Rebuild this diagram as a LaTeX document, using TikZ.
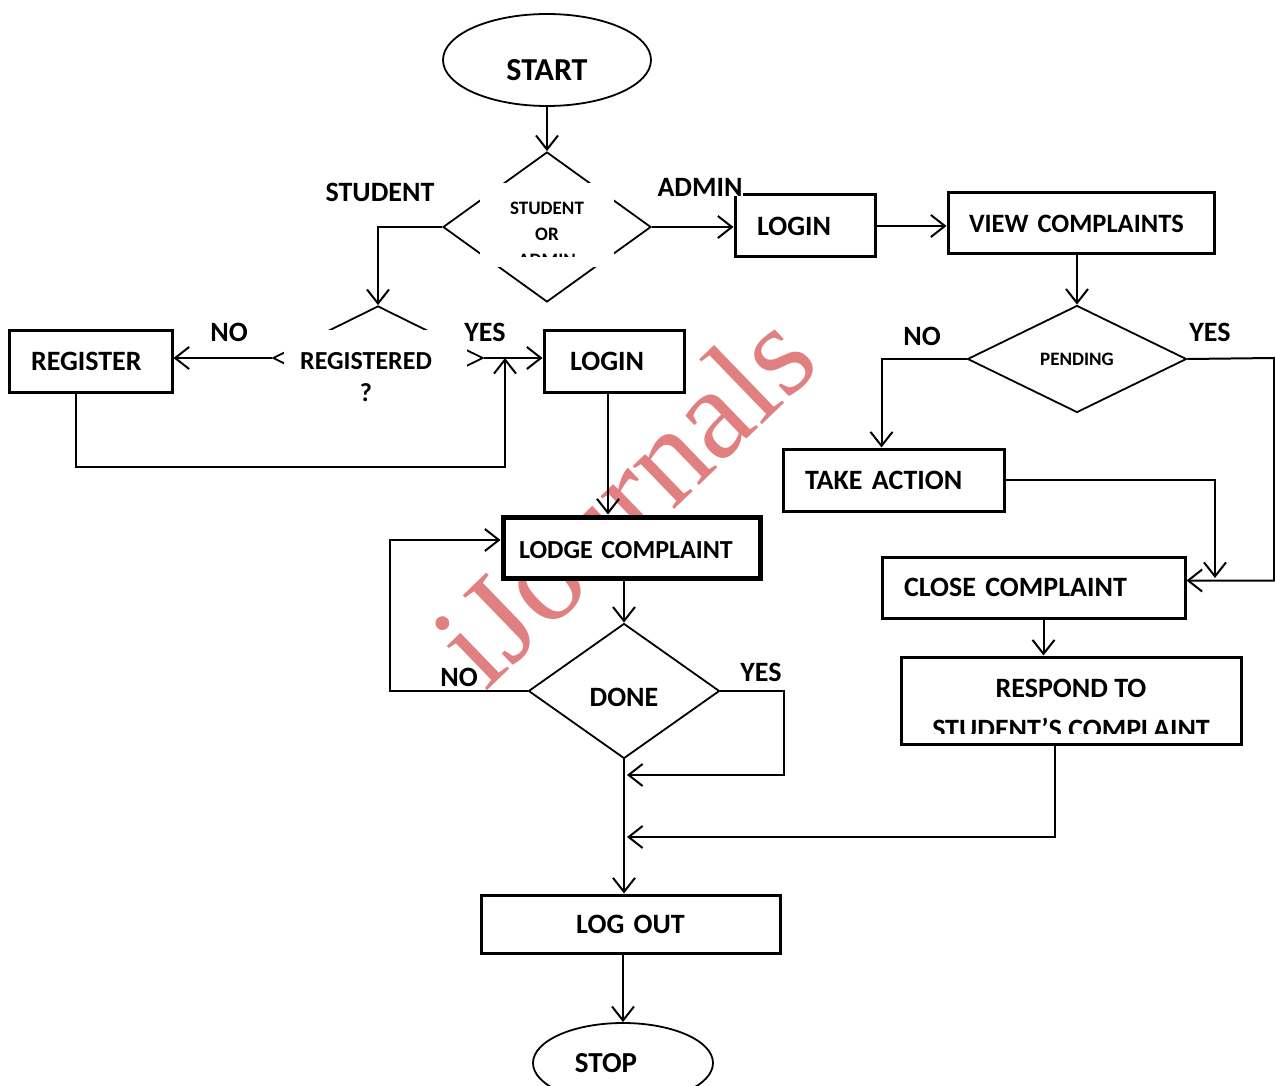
\documentclass[tikz,border=0pt]{standalone}
\usepackage{fontspec}
\setmainfont{Carlito}
\newfontfamily\markfont{Liberation Serif}
\usetikzlibrary{shapes.geometric,arrows.meta,calc}
\definecolor{markred}{RGB}{224,128,128}
\def\fsize#1#2{\fontsize{#1}{#2}\selectfont}
\def\dropby#1#2{\raisebox{-#1}[\height][\depth]{#2}}
\tikzset{
  box/.style={draw, fill=white, line width=3pt, inner xsep=22pt, inner ysep=0pt, align=left, font=\bfseries\fsize{28}{32}},
  decision/.style={diamond, draw, fill=white, line width=1.8pt, inner sep=0pt},
  terminal/.style={ellipse, draw, fill=white, line width=1.8pt, inner sep=0pt},
  lbl/.style={font=\bfseries\fsize{28}{30}, fill=white, inner sep=0pt},
  arr/.style={line width=2pt, -{Straight Barb[length=14pt,width=22pt]}},
  conn/.style={line width=2pt}
}

\begin{document}
\begin{tikzpicture}[x=1pt,y=-1pt]
	\clip (0,0) rectangle (1275,1086);
	% watermark
	\node[text=markred, font=\markfont\fsize{130}{130}, rotate=44] (mark) at (623,497.5) {iJournals};
	% terminals
	\node[terminal, minimum width=208, minimum height=92, font=\bfseries\fsize{32}{32}] (start) at (547,60) {\dropby{10pt}{START}};
	\node[terminal, minimum width=180, minimum height=80, font=\bfseries\fsize{29}{29}] (stop) at (623,1063) {STOP\kern34pt};
	% student or admin
	\node[decision, minimum width=208, minimum height=150] (role) at (547,227) {};
	\fill[white] (480,183) rectangle (614,267);
	\begin{scope}
	\clip (480,183) rectangle (614,257);
	\node[font=\bfseries\fsize{19}{26}, align=center, inner sep=0pt] (roletxt) at (547,234) {STUDENT\\OR\\ADMIN};
	\end{scope}
	% registered ?
	\node[decision, minimum width=210, minimum height=104] (reg) at (378,358) {};
	\fill[white] (284,330) rectangle (467,411);
	\node[font=\bfseries\fsize{26}{32}, align=center, inner sep=0pt] (regtxt) at (366,377) {REGISTERED\\?};
	% boxes
	\node[box, text width=119, minimum height=62] (register) at (90.5,361) {REGISTER};
	\node[box, minimum height=62, inner xsep=26pt, text width=88] (loginS) at (614,361) {LOGIN};
	\node[box, text width=96, minimum height=62] (loginA) at (805,226) {LOGIN};
	\node[box, text width=224, minimum height=61, inner xsep=21pt, font=\bfseries\fsize{26.5}{32}] (view) at (1081,223.5) {VIEW COMPLAINTS};
	\node[decision, minimum width=219, minimum height=107, font=\bfseries\fsize{19}{19}] (pending) at (1077,359) {PENDING};
	\node[box, text width=177, minimum height=62] (action) at (893.5,480) {TAKE ACTION};
	\node[box, text width=259, minimum height=61] (close) at (1033.5,587.5) {CLOSE COMPLAINT};
	\node[box, text width=296, minimum height=87, align=center] (respond) at (1071,700.5) {};
	\begin{scope}
	\clip (901,657) rectangle (1241,733);
	\node[font=\bfseries\fsize{28}{41}, align=center, inner sep=0pt] (respondtxt) at (1071,709) {RESPOND TO\\STUDENT’S COMPLAINT};
	\end{scope}
	\node[box, line width=5pt, inner xsep=16pt, text width=225, minimum height=61, font=\bfseries\fsize{26}{30}] (lodge) at (631.5,547.5) {\dropby{3pt}{LODGE COMPLAINT}};
	\node[decision, minimum width=191, minimum height=135, font=\bfseries\fsize{28}{28}] (done) at (624,691) {\dropby{6pt}{DONE}};
	\node[box, text width=255, minimum height=58, align=center] (logout) at (630.5,924) {LOG OUT};
	% labels
	\node[lbl] (lblstudent) at (380,192) {STUDENT};
	\node[lbl] (lbladmin) at (700,187) {ADMIN};
	\node[lbl] (lblregno) at (229,332) {NO};
	\node[lbl] (lblregyes) at (485,332) {YES};
	\node[lbl] (lblpendno) at (922,336) {NO};
	\node[lbl] (lblpendyes) at (1210,332) {YES};
	\node[lbl] (lbldoneno) at (459,677) {NO};
	\node[lbl] (lbldoneyes) at (761,672) {YES};
	% free ends
	\coordinate (regloop) at (505,467);
	\coordinate (yesright) at (1274,358);
	\coordinate (actend) at (1215,578);
	\coordinate (noloop) at (390,540);
	\coordinate (yesloop) at (784,775);
	\coordinate (yesend) at (627,775);
	\coordinate (respend) at (627,837);
	% connectors
	\draw[arr] (start.south) -- (role.north);
	\draw[arr] (role.west) -| (reg.north);
	\draw[arr] (role.east) -- (role.east -| loginA.west);
	\draw[arr] (loginA.east) -- (loginA.east -| view.west);
	\draw[arr] (reg.west) -- (reg.west -| register.east);
	\draw[arr] (reg.east) -- (reg.east -| loginS.west);
	\draw[arr] ([xshift=-15pt]register.south) |- (regloop) -- (regloop |- reg.east);
	\draw[arr] ([xshift=-6pt]loginS.south) -- ([xshift=-6pt]loginS.south |- lodge.north);
	\draw[arr] (view.south -| pending.north) -- (pending.north);
	\draw[arr] (pending.west) -| ([xshift=-12pt]action.north);
	\draw[arr] (pending.east) -- (yesright) |- ([yshift=7pt]close.east);
	\draw[arr] (action.east) -| (actend);
	\draw[arr] ([xshift=10pt]close.south) -- ([xshift=10pt]close.south |- respond.north);
	\draw[arr] ([xshift=-16pt]respond.south) |- (respend);
	\draw[arr] (done.north |- lodge.south) -- (done.north);
	\draw[arr] (done.west) -| (noloop) -- (noloop -| lodge.west);
	\draw[arr] (done.east) -| (yesloop) -- (yesend);
	\draw[arr] (done.south) -- (done.south |- logout.north);
	\draw[arr] (logout.south -| stop.north) -- (stop.north);
\end{tikzpicture}
\end{document}
